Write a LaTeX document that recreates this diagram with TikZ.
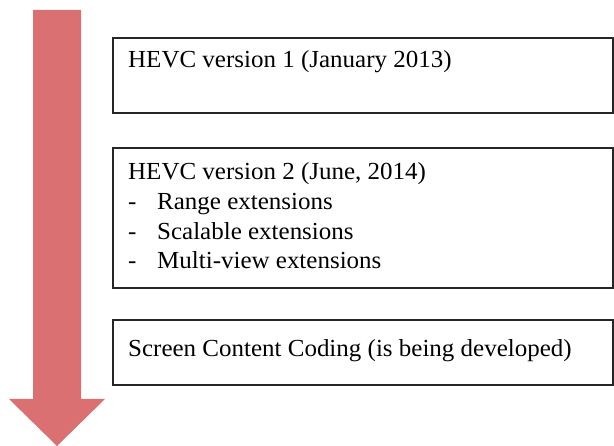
\documentclass[tikz,border=0pt]{standalone}
\usepackage{fontspec}
\setmainfont{Liberation Serif}
\definecolor{arrowred}{HTML}{DA7072}
\begin{document}
\begin{tikzpicture}[x=1pt,y=-1pt,
  box/.style={draw=black!85,line width=1.6pt},
  txt/.style={anchor=base west,inner sep=0pt,font=\fontsize{24.5}{28}\selectfont,xscale=1.02}]
\useasboundingbox (0,0) rectangle (614,446);
\fill[white] (0,0) rectangle (614,446);
\fill[arrowred] (33,10) -- (81,10) -- (81,399) -- (105,399) -- (57,446) -- (9,399) -- (33,399) -- cycle;
\node[box,minimum width=500,minimum height=75,anchor=north west,inner sep=0] (b1) at (112,37) {};
\node[box,minimum width=500,minimum height=140,anchor=north west,inner sep=0] (b2) at (112,147) {};
\node[box,minimum width=500,minimum height=65,anchor=north west,inner sep=0] (b3) at (112,319) {};
\node[txt] (t1) at (128,68) {HEVC version 1 (January 2013)};
\node[txt] (t2) at (128,180) {HEVC version 2 (June, 2014)};
\node[txt] (d1) at (128,210) {-};
\node[txt] (i1) at (157,210) {Range extensions};
\node[txt] (d2) at (128,240) {-};
\node[txt] (i2) at (157,240) {Scalable extensions};
\node[txt] (d3) at (128,269) {-};
\node[txt] (i3) at (157,269) {Multi-view extensions};
\node[txt] (t3) at (128,357) {Screen Content Coding (is being developed)};
\end{tikzpicture}
\end{document}
